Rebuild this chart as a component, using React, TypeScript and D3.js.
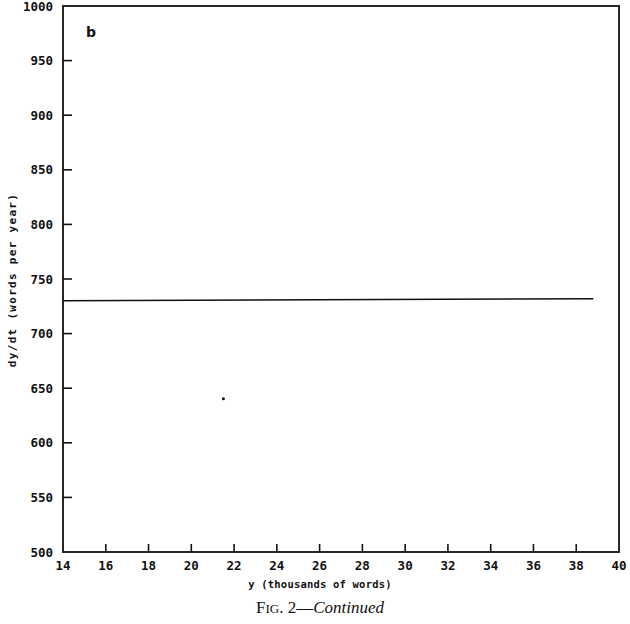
import React from "react";
import * as d3 from "d3";

const xTicks = [14, 16, 18, 20, 22, 24, 26, 28, 30, 32, 34, 36, 38, 40];
const yTicks = [500, 550, 600, 650, 700, 750, 800, 850, 900, 950, 1000];
const lineX = [14, 38.8];
const lineY = [730.1, 732.0];
const dotX = [21.5];
const dotY = [640.4];

const W = 630;
const H = 624;
const left = 63;
const right = 619;
const top = 6;
const bottom = 552;
const mono = "'DejaVu Sans Mono', monospace";

export default function App() {
  const x = d3.scaleLinear().domain([14, 40]).range([left, right]);
  const y = d3.scaleLinear().domain([500, 1000]).range([bottom, top]);
  const pts: [number, number][] = lineX.map((v, i) => [v, lineY[i]]);
  const line = d3
    .line<[number, number]>()
    .x((d) => x(d[0]))
    .y((d) => y(d[1]));
  return (
    <svg
      width={W}
      height={H}
      style={{ position: "absolute", left: 0, top: 0, background: "#fff" }}
    >
      <rect
        x={left}
        y={top}
        width={right - left}
        height={bottom - top}
        fill="none"
        stroke="#111"
        strokeWidth={1.8}
      />
      {xTicks.slice(1, -1).map((t) => (
        <line key={"xt" + t} x1={x(t)} x2={x(t)} y1={bottom} y2={bottom - 8} stroke="#111" strokeWidth={1.6} />
      ))}
      {yTicks.slice(1, -1).map((t) => (
        <line key={"yt" + t} x1={left} x2={left + 9} y1={y(t)} y2={y(t)} stroke="#111" strokeWidth={1.6} />
      ))}
      {xTicks.map((t) => (
        <text
          key={"xl" + t}
          x={x(t)}
          y={570}
          textAnchor="middle"
          fontFamily={mono}
          fontWeight="bold"
          fontSize={12.5}
          fill="#111"
        >
          {t}
        </text>
      ))}
      {yTicks.map((t) => (
        <text
          key={"yl" + t}
          x={53}
          y={y(t) + 4.5}
          textAnchor="end"
          fontFamily={mono}
          fontWeight="bold"
          fontSize={12.5}
          fill="#111"
        >
          {t}
        </text>
      ))}
      <path d={line(pts) || ""} fill="none" stroke="#111" strokeWidth={1.5} />
      {dotX.map((v, i) => (
        <circle key={"d" + i} cx={x(v)} cy={y(dotY[i])} r={1.5} fill="#111" />
      ))}
      <text x={86} y={37} fontFamily="'DejaVu Sans', sans-serif" fontWeight="bold" fontSize={14} fill="#111">
        b
      </text>
      <text
        x={320}
        y={588}
        textAnchor="middle"
        fontFamily={mono}
        fontWeight="bold"
        fontSize={10.5}
        letterSpacing={0.2}
        fill="#111"
      >
        y (thousands of words)
      </text>
      <text
        transform="translate(16,280) rotate(-90)"
        textAnchor="middle"
        fontFamily={mono}
        fontWeight="bold"
        fontSize={11}
        letterSpacing={1.3}
        fill="#111"
      >
        dy/dt (words per year)
      </text>
      <text x={320} y={613} textAnchor="middle" fontFamily="'Liberation Serif', serif" fontSize={17} fill="#111">
        <tspan>F</tspan>
        <tspan fontSize={13}>IG</tspan>
        <tspan>. 2—</tspan>
        <tspan fontStyle="italic">Continued</tspan>
      </text>
    </svg>
  );
}
